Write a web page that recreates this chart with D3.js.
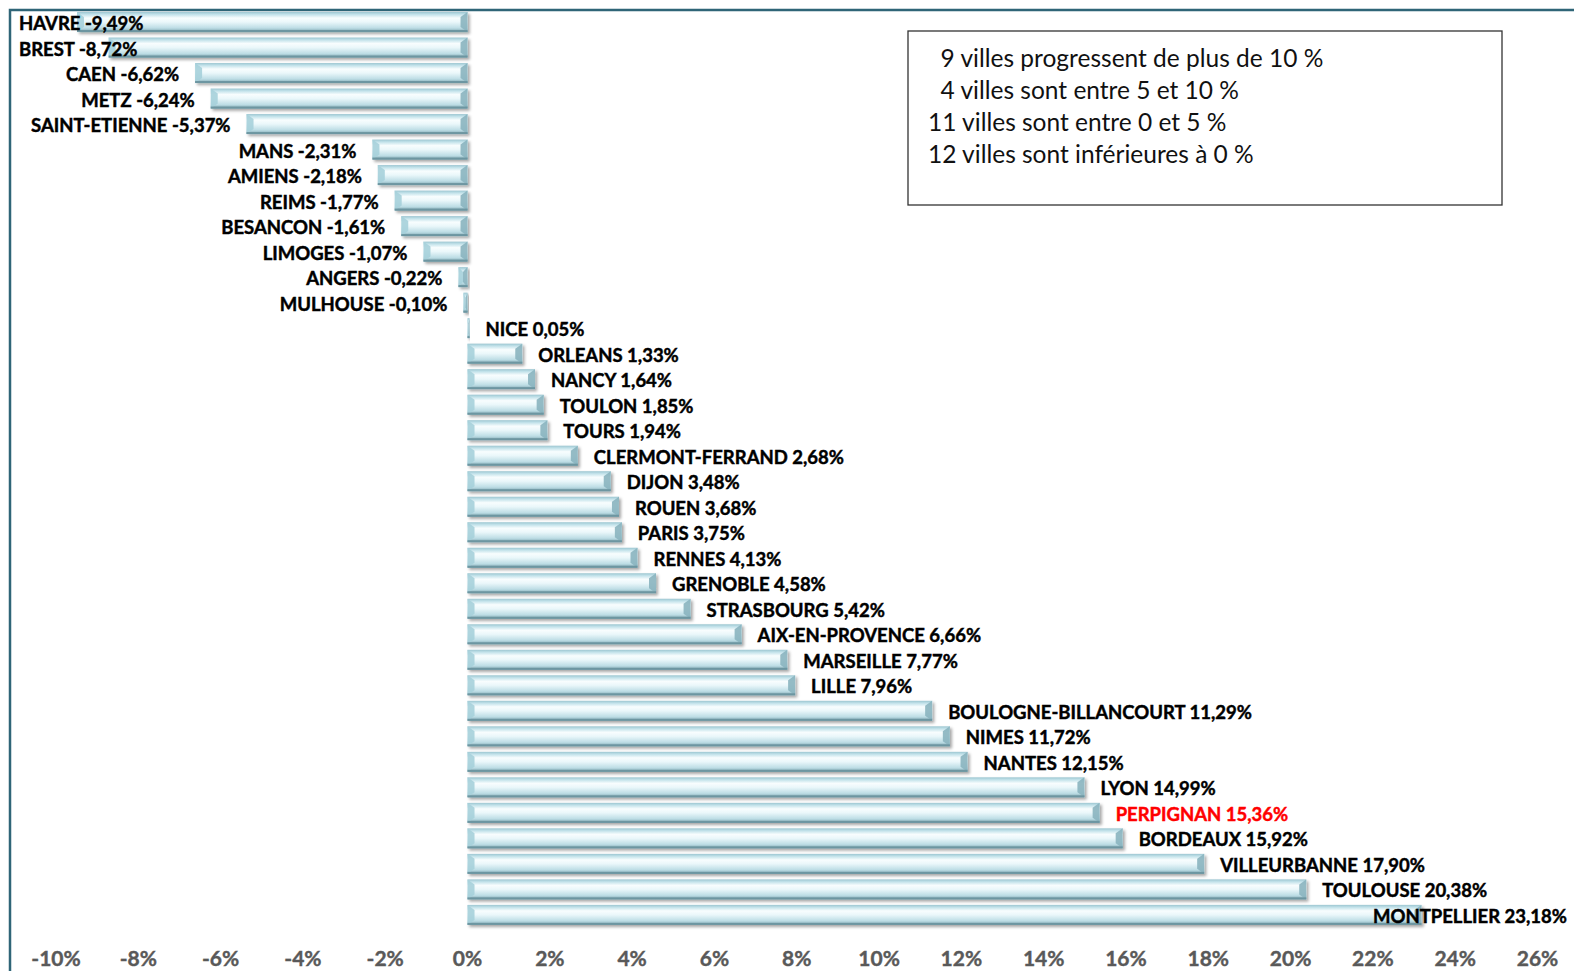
<!DOCTYPE html>
<html>
<head>
<meta charset="utf-8">
<script src="https://cdn.jsdelivr.net/npm/d3@7"></script>
<style>
  html, body { margin: 0; padding: 0; overflow: hidden; background: #fff; }
  svg { display: block; font-family: Lato, "Open Sans", sans-serif; }
</style>
</head>
<body>
<svg id="chart"></svg>
<script>
var cities = ["HAVRE","BREST","CAEN","METZ","SAINT-ETIENNE","MANS","AMIENS","REIMS","BESANCON","LIMOGES","ANGERS","MULHOUSE",
  "NICE","ORLEANS","NANCY","TOULON","TOURS","CLERMONT-FERRAND","DIJON","ROUEN","PARIS","RENNES","GRENOBLE","STRASBOURG",
  "AIX-EN-PROVENCE","MARSEILLE","LILLE","BOULOGNE-BILLANCOURT","NIMES","NANTES","LYON","PERPIGNAN","BORDEAUX","VILLEURBANNE",
  "TOULOUSE","MONTPELLIER"];
var values = [-9.49,-8.72,-6.62,-6.24,-5.37,-2.31,-2.18,-1.77,-1.61,-1.07,-0.22,-0.10,
  0.05,1.33,1.64,1.85,1.94,2.68,3.48,3.68,3.75,4.13,4.58,5.42,
  6.66,7.77,7.96,11.29,11.72,12.15,14.99,15.36,15.92,17.90,
  20.38,23.18];
var highlighted = ["PERPIGNAN"];
var ticks = [-10,-8,-6,-4,-2,0,2,4,6,8,10,12,14,16,18,20,22,24,26];
var notes = ["  9 villes progressent de plus de 10 %",
             "  4 villes sont entre 5 et 10 %",
             "11 villes sont entre 0 et 5 %",
             "12 villes sont inférieures à 0 %"];

var width = 1574, height = 971;

var data = cities.map(function(c, i){
  return {city: c, value: values[i]};
});

var svg = d3.select("#chart")
  .attr("width", width)
  .attr("height", height);

var defs = svg.append("defs");
var grad = defs.append("linearGradient")
  .attr("id", "barGrad")
  .attr("x1", 0).attr("y1", 0).attr("x2", 0).attr("y2", 1);
[[0,"#9cc6d1"],[0.12,"#c2e2ea"],[0.3,"#f8fdfe"],[0.5,"#eaf7fa"],[0.8,"#bddde5"],[1,"#7aa2ad"]]
  .forEach(function(s){
    grad.append("stop").attr("offset", s[0]).attr("stop-color", s[1]);
  });

var shadow = defs.append("filter").attr("id", "shadow")
  .attr("x", "-10%").attr("y", "-30%").attr("width", "130%").attr("height", "190%");
shadow.append("feDropShadow")
  .attr("dx", 2).attr("dy", 2).attr("stdDeviation", 1.5)
  .attr("flood-color", "#000").attr("flood-opacity", 0.35);

var xScale = d3.scaleLinear()
  .domain([-10, 26])
  .range([56, 1537.5]);

var yScale = d3.scaleBand()
  .domain(cities)
  .range([6.5, 930.4])
  .padding(0.216);

var fmt = function(v){
  return v.toFixed(2).replace(".", ",") + "%";
};

// frame
svg.append("path")
  .attr("d", "M10," + height + " V10 H" + width)
  .attr("fill", "none")
  .attr("stroke", "#2f6577")
  .attr("stroke-width", 2.5);

// bars
var bars = svg.append("g").selectAll("g.bar")
  .data(data)
  .enter()
  .append("g")
  .attr("class", "bar")
  .attr("filter", "url(#shadow)");

bars.each(function(d){
  var g = d3.select(this);
  var x0 = Math.min(xScale(0), xScale(d.value));
  var x1 = Math.max(xScale(0), xScale(d.value));
  var y0 = yScale(d.city);
  var h = yScale.bandwidth();
  var y1 = y0 + h;
  var b = Math.min(7, (x1 - x0) / 2);
  g.append("rect")
    .attr("x", x0).attr("y", y0)
    .attr("width", Math.max(x1 - x0, 1.5)).attr("height", h)
    .attr("fill", "url(#barGrad)");
  // left bevel
  g.append("polygon")
    .attr("points", [[x0,y0],[x0+b,y0+5],[x0+b,y1-5],[x0,y1]].join(" "))
    .attr("fill", "#a6d0da").attr("opacity", 0.9);
  // right bevel
  g.append("polygon")
    .attr("points", [[x1,y0],[x1-b,y0+5],[x1-b,y1-5],[x1,y1]].join(" "))
    .attr("fill", "#8ab4bf").attr("opacity", 0.9);
  // bottom edge
  g.append("rect")
    .attr("x", x0).attr("y", y1 - 2)
    .attr("width", Math.max(x1 - x0, 1.5)).attr("height", 2)
    .attr("fill", "#6d96a1");
});

// labels
var labels = svg.append("g").selectAll("text")
  .data(data)
  .enter()
  .append("text")
  .attr("y", function(d){ return yScale(d.city) + yScale.bandwidth() / 2 + 1; })
  .attr("dominant-baseline", "central")
  .attr("font-size", 18.5)
  .attr("font-weight", "bold")
  .attr("fill", function(d){ return highlighted.indexOf(d.city) >= 0 ? "#ff0000" : "#000"; })
  .attr("stroke", function(d){ return highlighted.indexOf(d.city) >= 0 ? "#ff0000" : "#000"; })
  .attr("stroke-width", 0.45)
  .text(function(d){ return d.city + " " + fmt(d.value); });

labels.each(function(d){
  var t = d3.select(this);
  var w = this.getComputedTextLength();
  var x;
  if (d.value < 0) {
    x = xScale(d.value) - 16 - w;
    if (x < 19) x = 19;
  } else {
    x = xScale(d.value) + 16;
    if (x + w > 1567) x = 1567 - w;
  }
  t.attr("x", x);
});

// x axis tick labels
svg.append("g").selectAll("text")
  .data(ticks)
  .enter()
  .append("text")
  .attr("x", function(d){ return xScale(d); })
  .attr("y", 957)
  .attr("text-anchor", "middle")
  .attr("dominant-baseline", "central")
  .attr("font-size", 21)
  .attr("font-weight", "bold")
  .attr("fill", "#595959")
  .attr("stroke", "#595959")
  .attr("stroke-width", 0.4)
  .text(function(d){ return d + "%"; });

// notes box
svg.append("rect")
  .attr("x", 908).attr("y", 31)
  .attr("width", 594).attr("height", 174)
  .attr("fill", "#fff")
  .attr("stroke", "#333")
  .attr("stroke-width", 1.3);

svg.append("g").selectAll("text")
  .data(notes)
  .enter()
  .append("text")
  .attr("x", 928)
  .attr("y", function(d, i){ return 57 + i * 32; })
  .attr("dominant-baseline", "central")
  .attr("font-size", 24.5)
  .attr("fill", "#111")
  .attr("xml:space", "preserve")
  .style("white-space", "pre")
  .text(function(d){ return d; });
</script>
</body>
</html>
